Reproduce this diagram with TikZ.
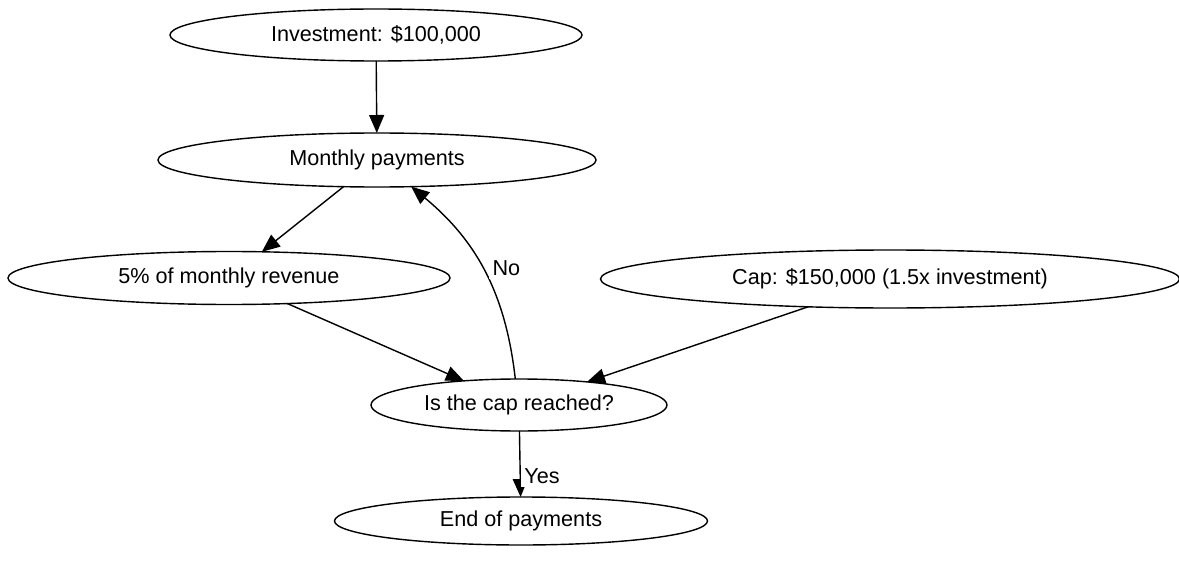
\documentclass[tikz,border=0pt]{standalone}
\usepackage{fontspec}
\setmainfont{Liberation Sans}
\usepackage{tkz-graph}
\usetikzlibrary{shapes.geometric,arrows.meta}

\begin{document}
\begin{tikzpicture}
\GraphInit[vstyle=Normal]
\tikzset{VertexStyle/.style = {shape = ellipse, draw, line width = 0.8pt, inner sep = 0pt, font = \fontsize{12.3}{14}\selectfont},
  EdgeStyle/.style = {draw, -{Triangle[length=3.6mm, width=3mm]}, line width = 0.8pt},
  LabelStyle/.style = {anchor = west, inner sep = 2pt, font = \fontsize{12.3}{14}\selectfont}}
\useasboundingbox (0,0) rectangle (23.58,11.48);

\Vertex[x=7.52, y=10.78, L={Investment: \$100,000}, style={minimum width=8.24cm, minimum height=1.04cm}]{inv}
\Vertex[x=7.54, y=8.28, L={Monthly payments}, style={minimum width=8.76cm, minimum height=1.08cm}]{pay}
\Vertex[x=4.58, y=5.92, L={5\% of monthly revenue}, style={minimum width=8.84cm, minimum height=1.06cm}]{rev}
\Vertex[x=17.80, y=5.90, L={Cap: \$150,000 (1.5x investment)}, style={minimum width=11.58cm, minimum height=1.16cm}]{cap}
\Vertex[x=10.38, y=3.38, L={Is the cap reached?}, style={minimum width=5.92cm, minimum height=1.04cm}]{chk}
\Vertex[x=10.42, y=1.06, L={End of payments}, style={minimum width=7.46cm, minimum height=0.96cm}]{stop}

\Edges(inv,pay,rev,chk) \Edge(cap)(chk)
\Edge[label=No, labelstyle={pos=0.52, xshift=0.12cm}, style={bend right=22}](chk)(pay)
\Edge[label=Yes, labelstyle={pos=0.68}](chk)(stop)
\end{tikzpicture}
\end{document}
